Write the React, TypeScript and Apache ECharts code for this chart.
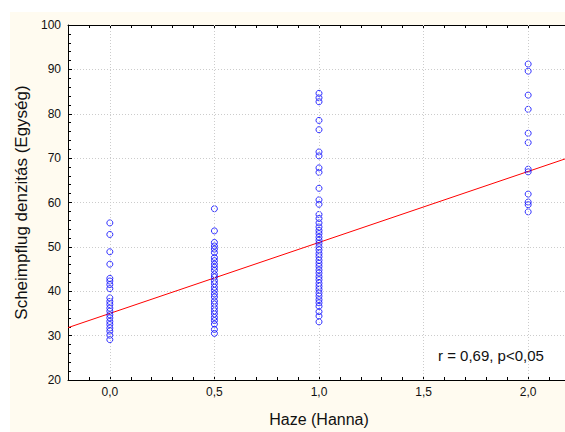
import React, { useEffect, useRef } from "react";
import * as echarts from "echarts";

// Haze (Hanna) groups and Scheimpflug densitometry values
const hazeLevels = [0.0, 0.5, 1.0, 2.0];
const densHaze00 = [55.4, 52.8, 48.9, 46.1, 42.9, 42.3, 41.5, 40.6, 38.5, 37.7, 37.0, 36.2, 35.5, 34.7, 34.0, 33.2, 32.5, 31.7, 31.0, 30.1, 29.1];
const densHaze05 = [58.6, 53.6, 51.0, 50.2, 49.5, 48.7, 47.6, 46.9, 46.1, 45.4, 44.7, 43.8, 43.2, 42.4, 41.7, 40.9, 40.2, 39.4, 38.7, 37.8, 37.1, 36.3, 35.6, 34.9, 34.1, 33.4, 32.6, 31.4, 30.5];
const densHaze10 = [84.6, 83.6, 82.7, 78.5, 76.4, 71.4, 70.5, 67.8, 66.8, 63.2, 60.6, 59.6, 57.3, 56.4, 55.4, 54.5, 53.7, 53.0, 52.2, 51.5, 50.8, 50.0, 49.3, 48.5, 47.8, 47.0, 46.3, 45.6, 44.8, 44.1, 43.3, 42.6, 41.8, 41.1, 40.4, 39.6, 38.9, 38.1, 37.4, 36.6, 35.4, 34.4, 33.1];
const densHaze20 = [91.2, 89.6, 84.2, 81.0, 75.6, 73.5, 67.5, 66.9, 61.9, 60.1, 59.5, 57.9];
const groups = [densHaze00, densHaze05, densHaze10, densHaze20];

// Linear fit
const fitIntercept = 35.0;
const fitSlope = 16.0;

// Axes
const xMin = -0.2;
const xMax = 2.2;
const xTickStep = 0.1;
const xGridValues = [0.0, 0.5, 1.0, 1.5, 2.0];
const yMin = 20;
const yMax = 100;
const yStep = 10;

const annotation = "r = 0,69, p<0,05";
const xTitle = "Haze (Hanna)";
const yTitle = "Scheimpflug denzitás (Egység)";

const FONT = "Arial, 'Liberation Sans', sans-serif";

export default function App() {
  const ref = useRef<HTMLDivElement>(null);
  useEffect(() => {
    if (!ref.current) return;
    const chart = echarts.init(ref.current, null, { renderer: "svg" });
    const points: number[][] = [];
    groups.forEach((g, i) => g.forEach((v) => points.push([hazeLevels[i], v])));
    const fitLine = [
      [xMin, fitIntercept + fitSlope * xMin],
      [xMax, fitIntercept + fitSlope * xMax],
    ];
    const isMajor = (v: number) => Math.abs(v * 2 - Math.round(v * 2)) < 1e-6;
    chart.setOption({
      animation: false,
      backgroundColor: "#ffffff",
      graphic: [
        {
          type: "rect",
          z: -10,
          silent: true,
          shape: { x: 10, y: 12, width: 580, height: 425 },
          style: { fill: "#fffbf0" },
        },
        {
          type: "text",
          z: 100,
          left: 438,
          top: 348,
          style: { text: annotation, font: `15px ${FONT}`, fill: "#111" },
        },
      ],
      grid: {
        left: 68,
        top: 25,
        width: 502,
        height: 359,
        show: true,
        backgroundColor: "#ffffff",
        borderWidth: 0,
      },
      xAxis: [
        {
          type: "value",
          min: xMin,
          max: xMax,
          interval: xTickStep,
          name: xTitle,
          nameLocation: "middle",
          nameGap: 31,
          nameTextStyle: { fontFamily: FONT, fontSize: 16, color: "#111" },
          axisLine: { show: true, onZero: false, lineStyle: { color: "#000", width: 1 } },
          axisTick: { show: true, inside: true, length: 3, lineStyle: { color: "#000" } },
          axisLabel: {
            fontFamily: FONT,
            fontSize: 12,
            color: "#111",
            margin: 6,
            showMinLabel: false,
            showMaxLabel: false,
            formatter: (v: number) => (isMajor(v) ? v.toFixed(1).replace(".", ",") : ""),
          },
          splitLine: { show: false },
        },
        {
          type: "value",
          position: "top",
          min: xMin,
          max: xMax,
          interval: xTickStep,
          axisLine: { show: true, onZero: false, lineStyle: { color: "#000", width: 1 } },
          axisTick: { show: true, inside: true, length: 3, lineStyle: { color: "#000" } },
          axisLabel: { show: false },
          splitLine: { show: false },
        },
      ],
      yAxis: {
        type: "value",
        min: yMin,
        max: yMax,
        interval: yStep,
        name: yTitle,
        nameLocation: "middle",
        nameGap: 31,
        nameTextStyle: { fontFamily: FONT, fontSize: 17, color: "#111" },
        axisLine: { show: true, onZero: false, lineStyle: { color: "#000", width: 1 } },
        axisTick: { show: true, inside: true, length: 4, lineStyle: { color: "#000" } },
        minorTick: { show: true, splitNumber: 5, length: 3, lineStyle: { color: "#000" } },
        axisLabel: { fontFamily: FONT, fontSize: 12, color: "#111", margin: 7 },
        splitLine: { show: true, lineStyle: { color: "#cccccc", type: [1, 2], width: 1 } },
      },
      series: [
        {
          type: "line",
          data: [],
          z: 1,
          silent: true,
          markLine: {
            silent: true,
            symbol: ["none", "none"],
            label: { show: false },
            lineStyle: { color: "#cccccc", type: [1, 2], width: 1 },
            data: xGridValues.map((v) => ({ xAxis: v })),
          },
        },
        {
          type: "line",
          data: fitLine,
          z: 3,
          showSymbol: false,
          symbol: "none",
          lineStyle: { color: "#ff0000", width: 1 },
          silent: true,
        },
        {
          type: "scatter",
          data: points,
          z: 4,
          symbol: "circle",
          symbolSize: 6,
          itemStyle: { color: "rgba(0,0,0,0)", borderColor: "#0000ff", borderWidth: 1 },
        },
      ],
    });
    return () => chart.dispose();
  }, []);
  return (
    <div
      style={{
        position: "fixed",
        left: 0,
        top: 0,
        width: 565,
        height: 432,
        overflow: "hidden",
        background: "#ffffff",
      }}
    >
      <div ref={ref} style={{ width: 590, height: 432 }} />
    </div>
  );
}
